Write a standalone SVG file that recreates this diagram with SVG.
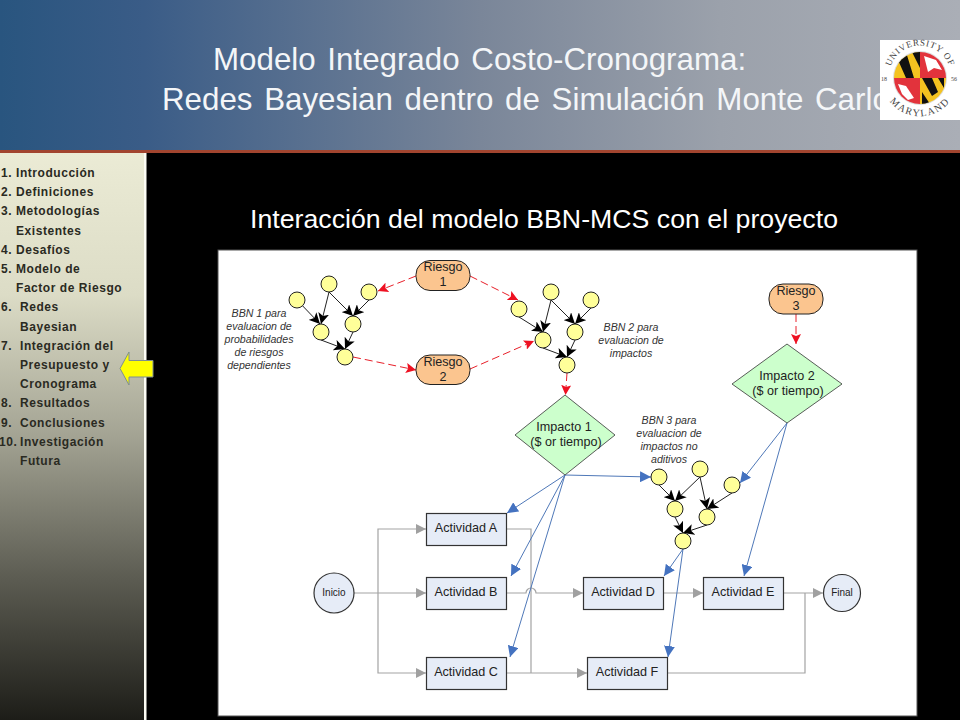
<svg xmlns="http://www.w3.org/2000/svg" width="960" height="720" viewBox="0 0 960 720">
<style>
text{font-family:"Liberation Sans",Arial,sans-serif}
.t{fill:#f4f6f8;font-size:31.300px;word-spacing:3px}
.m{font-size:12px;font-weight:bold;fill:#2a2a22;letter-spacing:.55px;stroke:none}
.b{fill:#ffff99;stroke:#222;stroke-width:1}
.r{fill:#fbc58f;stroke:#222;stroke-width:1}
.d{fill:#ccffcc;stroke:#333;stroke-width:.8}
.a{fill:#e6ecf7;stroke:#333;stroke-width:1.2}
.n{font-size:12.600px;fill:#222;text-anchor:middle}
.s{font-size:10px;fill:#222;text-anchor:middle}
.i{font-size:10.600px;font-style:italic;fill:#333;text-anchor:middle}
.k{fill:none;stroke:#222;stroke-width:1;marker-end:url(#ak)}
.e{fill:none;stroke:#e8202a;stroke-width:1;stroke-dasharray:8 4;marker-end:url(#ae)}
.g{fill:none;stroke:#a3a3a3;stroke-width:1.2}
.ga{marker-end:url(#ag)}
.u{fill:none;stroke:#4f78b8;stroke-width:1;marker-end:url(#au)}
.y{font-family:"Liberation Serif",serif;fill:#444}
</style>
<defs>
<linearGradient id="h" x1="0" x2="1" y1="0" y2="0"><stop offset="0" stop-color="#29557f"/><stop offset=".15" stop-color="#3a5c87"/><stop offset=".5" stop-color="#7a8699"/><stop offset=".75" stop-color="#9ba1ab"/><stop offset="1" stop-color="#aaaeb6"/></linearGradient>
<linearGradient id="sb" x1="0" x2="0" y1="0" y2="1"><stop offset="0" stop-color="#ebebd5"/><stop offset=".25" stop-color="#dcdcc6"/><stop offset=".5" stop-color="#a3a393"/><stop offset=".75" stop-color="#5c5c52"/><stop offset="1" stop-color="#1d1d18"/></linearGradient>
<marker id="ak" viewBox="0 0 10 10" refX="10" refY="5" markerWidth="11" markerHeight="11" markerUnits="userSpaceOnUse" orient="auto"><path d="M0 0L10 5L0 10L2.500 5Z" fill="#000"/></marker>
<marker id="ae" viewBox="0 0 10 10" refX="10" refY="5" markerWidth="10" markerHeight="10" markerUnits="userSpaceOnUse" orient="auto"><path d="M0 0L10 5L0 10L2 5Z" fill="#ee1122"/></marker>
<marker id="ag" viewBox="0 0 10 10" refX="10" refY="5" markerWidth="10" markerHeight="10" markerUnits="userSpaceOnUse" orient="auto"><path d="M0 0L10 5L0 10Z" fill="#a0a0a0"/></marker>
<marker id="au" viewBox="0 0 10 10" refX="10" refY="5" markerWidth="11" markerHeight="11" markerUnits="userSpaceOnUse" orient="auto"><path d="M0 0L10 5L0 10Z" fill="#4472c0"/></marker>
<path id="arcT" d="M889.500 71A31 31 0 0 1 950.500 71"/>
<path id="arcB" d="M885 93A38 38 0 0 0 955 93"/>
<clipPath id="seal"><circle cx="920" cy="78" r="26"/></clipPath>
</defs>
<rect width="960" height="720" fill="#000"/>
<g id="header">
<rect width="960" height="151" fill="url(#h)"/>
<rect y="150" width="960" height="3" fill="#a2452f"/>
<text class="t" x="213" y="70">Modelo Integrado Costo-Cronograma:</text>
<text class="t" x="162" y="110">Redes Bayesian dentro de Simulación Monte Carlo</text>
</g>
<g id="logo">
<rect x="880" y="40" width="80" height="80" fill="#fff"/>
<circle cx="920" cy="78" r="27" fill="#ddd"/>
<g clip-path="url(#seal)">
<rect x="894" y="52" width="26" height="26" fill="#f4c320"/>
<path d="M898 60L906 52L914 78H906ZM912 52H920V68Z" fill="#111"/>
<rect x="920" y="52" width="26" height="26" fill="#e2333c"/>
<path d="M924 56l12 4 6 10-8-2-6 4-2-8Z" fill="#fff"/>
<rect x="894" y="78" width="26" height="26" fill="#e2333c"/>
<path d="M898 84l8 2 8 12-6 2-6-6Z" fill="#fff"/>
<rect x="920" y="78" width="26" height="26" fill="#f4c320"/>
<path d="M922 78H932L938 92L932 96ZM944 78V88L938 78ZM922 92L930 104H922Z" fill="#111"/>
</g>
<text class="y" font-size="9" letter-spacing=".7"><textPath href="#arcT" startOffset="50%" text-anchor="middle">UNIVERSITY OF</textPath></text>
<text class="y" font-size="10" letter-spacing="1.5"><textPath href="#arcB" startOffset="50%" text-anchor="middle">MARYLAND</textPath></text>
<text class="y" x="881" y="81" font-size="6">18</text>
<text class="y" x="951" y="81" font-size="6">56</text>
</g>
<g id="sidebar">
<rect y="153" width="144" height="567" fill="url(#sb)"/>
<rect x="144" y="153" width="2.500" height="567" fill="#fdfdf5"/>
<text class="m" x="1" y="177">1. Introducción</text>
<text class="m" x="1" y="196">2. Definiciones</text>
<text class="m" x="1" y="215">3. Metodologías</text>
<text class="m" x="16" y="235">Existentes</text>
<text class="m" x="1" y="254">4. Desafíos</text>
<text class="m" x="1" y="273">5. Modelo de</text>
<text class="m" x="16" y="292">Factor de Riesgo</text>
<text class="m" x="1" y="311">6.</text>
<text class="m" x="20" y="311">Redes</text>
<text class="m" x="20" y="331">Bayesian</text>
<text class="m" x="1" y="350">7.</text>
<text class="m" x="20" y="350">Integración del</text>
<text class="m" x="20" y="369">Presupuesto y</text>
<text class="m" x="20" y="388">Cronograma</text>
<text class="m" x="1" y="407">8.</text>
<text class="m" x="20" y="407">Resultados</text>
<text class="m" x="1" y="427">9.</text>
<text class="m" x="20" y="427">Conclusiones</text>
<text class="m" x="-1" y="446">10.</text>
<text class="m" x="20" y="446">Investigación</text>
<text class="m" x="20" y="465">Futura</text>
<path id="pointer" d="M120 368.500L129 352V360.500H153V377H129V385Z" fill="#ffff00" stroke="#7f8f8f" stroke-width="1"/>
</g>
<text id="subtitle" x="250" y="228" font-size="26.700" fill="#fff" textLength="588" lengthAdjust="spacing">Interacción del modelo BBN-MCS con el proyecto</text>
<rect id="panel" x="218" y="250" width="699" height="466" fill="#fff" stroke="#555" stroke-width="1"/>
<g id="connectors">
<g>
<path class="k" d="M297 300L320 324"/><path class="k" d="M329 292L321 324"/><path class="k" d="M329 292L353 316"/><path class="k" d="M369 300L353 316"/><path class="k" d="M321 340L345 349"/><path class="k" d="M353 332L345 349"/>
<path class="k" d="M519 317L543 332"/><path class="k" d="M551 300L543 332"/><path class="k" d="M551 300L575 324"/><path class="k" d="M591 308L575 324"/><path class="k" d="M543 348L567 357"/><path class="k" d="M575 340L567 357"/>
<path class="k" d="M659 485L675 501"/><path class="k" d="M700 477L675 501"/><path class="k" d="M700 477L707 509"/><path class="k" d="M732 493L707 509"/><path class="k" d="M675 517L683 533"/><path class="k" d="M707 525L683 533"/>
</g>
<g>
<path class="e" d="M416 276L378 291"/><path class="e" d="M470 276L518 300"/><path class="e" d="M353 357L416 370"/><path class="e" d="M470 369L534 341"/><path class="e" d="M567 373L565.500 395"/><path class="e" d="M796 314L796 344"/>
</g>
<g>
<path class="g ga" d="M354 593H426"/><path class="g ga" d="M378 593V529H426"/><path class="g ga" d="M378 593V673H426"/>
<path class="g" d="M507 529H531V673"/>
<path class="g ga" d="M507 593H526A5 5 0 0 1 536 593H583"/>
<path class="g ga" d="M507 673H587"/><path class="g ga" d="M663 593H703"/><path class="g ga" d="M784 593H823"/>
<path class="g" d="M667 673H805V593"/>
</g>
<g>
<path class="u" d="M565 475L507 513"/><path class="u" d="M565 475L511 576"/><path class="u" d="M565 475L510 657"/><path class="u" d="M565 475L651 477"/>
<path class="u" d="M787 423L740 483"/><path class="u" d="M787 423L744 576"/>
<path class="u" d="M683 549L664 576"/><path class="u" d="M683 549L668 657"/>
</g>
</g>
<g id="bbn1">
<circle class="b" cx="297" cy="300" r="8"/><circle class="b" cx="329" cy="284" r="8"/><circle class="b" cx="369" cy="292" r="8"/><circle class="b" cx="321" cy="332" r="8"/><circle class="b" cx="353" cy="324" r="8"/><circle class="b" cx="345" cy="357" r="8"/>
</g>
<g id="bbn2">
<circle class="b" cx="519" cy="309" r="8"/><circle class="b" cx="551" cy="292" r="8"/><circle class="b" cx="591" cy="300" r="8"/><circle class="b" cx="543" cy="340" r="8"/><circle class="b" cx="575" cy="332" r="8"/><circle class="b" cx="567" cy="365" r="8"/>
</g>
<g id="bbn3">
<circle class="b" cx="659" cy="477" r="8"/><circle class="b" cx="700" cy="469" r="8"/><circle class="b" cx="732" cy="485" r="8"/><circle class="b" cx="675" cy="509" r="8"/><circle class="b" cx="707" cy="517" r="8"/><circle class="b" cx="683" cy="541" r="8"/>
</g>
<g id="labels">
<text class="i"><tspan x="259" y="317">BBN 1 para</tspan><tspan x="259" y="330">evaluacion de</tspan><tspan x="259" y="343">probabilidades</tspan><tspan x="259" y="356">de riesgos</tspan><tspan x="259" y="369">dependientes</tspan></text>
<text class="i"><tspan x="631" y="331">BBN 2 para</tspan><tspan x="631" y="344">evaluacion de</tspan><tspan x="631" y="357">impactos</tspan></text>
<text class="i"><tspan x="669" y="424">BBN 3 para</tspan><tspan x="669" y="437">evaluacion de</tspan><tspan x="669" y="450">impactos no</tspan><tspan x="669" y="463">aditivos</tspan></text>
</g>
<g id="riesgo1"><rect class="r" x="416" y="260.500" width="54" height="30" rx="14"/><text class="n"><tspan x="443" y="271">Riesgo</tspan><tspan x="443" y="286">1</tspan></text></g>
<g id="riesgo2"><rect class="r" x="416" y="355" width="54" height="29.500" rx="14"/><text class="n"><tspan x="443" y="366">Riesgo</tspan><tspan x="443" y="381">2</tspan></text></g>
<g id="riesgo3"><rect class="r" x="769" y="284" width="54" height="30" rx="14"/><text class="n"><tspan x="796" y="295">Riesgo</tspan><tspan x="796" y="310">3</tspan></text></g>
<g id="impacto1"><path class="d" d="M565 395L615 435L565 475L515 435Z"/><text class="n"><tspan x="564" y="431">Impacto 1</tspan><tspan x="566" y="446">($ or tiempo)</tspan></text></g>
<g id="impacto2"><path class="d" d="M787 344L842 384L787 423L732 384Z"/><text class="n"><tspan x="787" y="380">Impacto 2</tspan><tspan x="788" y="395">($ or tiempo)</tspan></text></g>
<g id="inicio"><circle class="a" cx="334" cy="593" r="20"/><text class="s" x="334" y="596">Inicio</text></g>
<g id="actA"><rect class="a" x="426.500" y="513.500" width="80" height="32"/><text class="n" x="466" y="532">Actividad A</text></g>
<g id="actB"><rect class="a" x="426.500" y="577.500" width="80" height="32"/><text class="n" x="466" y="596">Actividad B</text></g>
<g id="actC"><rect class="a" x="426.500" y="657.500" width="80" height="32"/><text class="n" x="466" y="676">Actividad C</text></g>
<g id="actD"><rect class="a" x="583.500" y="577.500" width="80" height="32"/><text class="n" x="623" y="596">Actividad D</text></g>
<g id="actE"><rect class="a" x="703.500" y="577.500" width="80" height="32"/><text class="n" x="743" y="596">Actividad E</text></g>
<g id="actF"><rect class="a" x="587.500" y="657.500" width="80" height="32"/><text class="n" x="627" y="676">Actividad F</text></g>
<g id="final"><circle class="a" cx="842" cy="593" r="18.500"/><text class="s" x="842" y="596">Final</text></g>
</svg>
